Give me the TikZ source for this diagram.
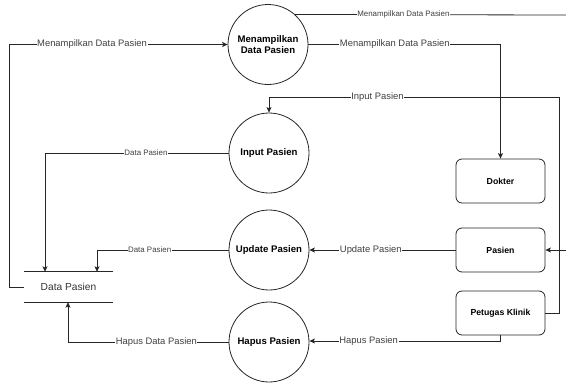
\documentclass[tikz,border=0pt]{standalone}
\usepackage{fontspec}
\setmainfont{Liberation Sans}
\usetikzlibrary{arrows.meta}
\begin{document}
\begin{tikzpicture}[x=1pt,y=-1pt,
  flow/.style={draw=black!85, line width=0.8pt},
  arr/.style={flow, -{Stealth[length=5.5pt,width=5pt,inset=1.2pt]}},
  proc/.style={circle, draw=black!85, line width=0.8pt, minimum size=80pt, inner sep=0pt,
    align=center, font=\fontsize{9.6}{11}\selectfont\bfseries},
  ent/.style={rectangle, rounded corners=6pt, draw=black!85, line width=0.8pt,
    minimum width=89pt, minimum height=44pt, font=\fontsize{8.7}{10}\selectfont\bfseries},
  store/.style={rectangle, minimum width=89pt, minimum height=30pt, inner sep=0pt,
    font=\fontsize{10.2}{12}\selectfont, text=black!80},
  lbl/.style={fill=white, inner sep=0.6pt, font=\fontsize{9.4}{11}\selectfont, text=black!75},
  slbl/.style={fill=white, inner sep=0.5pt, font=\fontsize{7.9}{9}\selectfont, text=black!75}]
\useasboundingbox (0,0) rectangle (566,383);

% processes
\node[proc] (c1) at (268,44.5) {Menampilkan\\Data Pasien};
\node[proc] (c2) at (269,153) {Input Pasien};
\node[proc] (c3) at (269,250) {Update Pasien};
\node[proc] (c4) at (269,342) {Hapus Pasien};

% external entities
\node[ent] (dok) at (500.5,181) {Dokter};
\node[ent] (pas) at (500.5,250) {Pasien};
\node[ent] (pet) at (500.5,313) {Petugas Klinik};

% data store
\node[store] (ds) at (68.5,287) {Data Pasien};
\draw[flow] (ds.north west) -- (ds.north east);
\draw[flow] (ds.south west) -- (ds.south east);

% free ends at the right border
\coordinate (topR) at (566,15);
\coordinate (pasR) at (566,250);

% data flows
\draw[flow] (c1.48.6) -- node[slbl,pos=0.4]{Menampilkan Data Pasien} (topR);
\draw[arr] (pasR) -- (pas.east);

\draw[arr] (c1.east) -- node[lbl,pos=0.45]{Menampilkan Data Pasien} (c1.east -| dok.north) -- (dok.north);

\draw[arr] (ds.west) -- (9,287) -- (9,44.5) -- node[lbl,pos=0.38]{Menampilkan Data Pasien} (c1.west);

\draw[arr] (pet.east) -- (559,313) -- (559,97) -- node[lbl,pos=0.626]{Input Pasien} (c2.north |- 0,97) -- (c2.north);

\draw[arr] (c2.west) -- node[slbl,pos=0.45]{Data Pasien} (45,153) -- (ds.north -| 45,0);
\draw[arr] (c3.west) -- node[slbl,pos=0.6]{Data Pasien} (97,250) -- (ds.north -| 97,0);

\draw[arr] (pas.west) -- node[lbl,pos=0.58]{Update Pasien} (c3.east);

\draw[arr] (pet.south) -- (500.5,341) -- node[lbl,pos=0.69]{Hapus Pasien} (c4.east |- 0,341);

\draw[arr] (c4.west) -- node[lbl,pos=0.45]{Hapus Data Pasien} (68,342) -- (ds.south -| 68,0);
\end{tikzpicture}
\end{document}
